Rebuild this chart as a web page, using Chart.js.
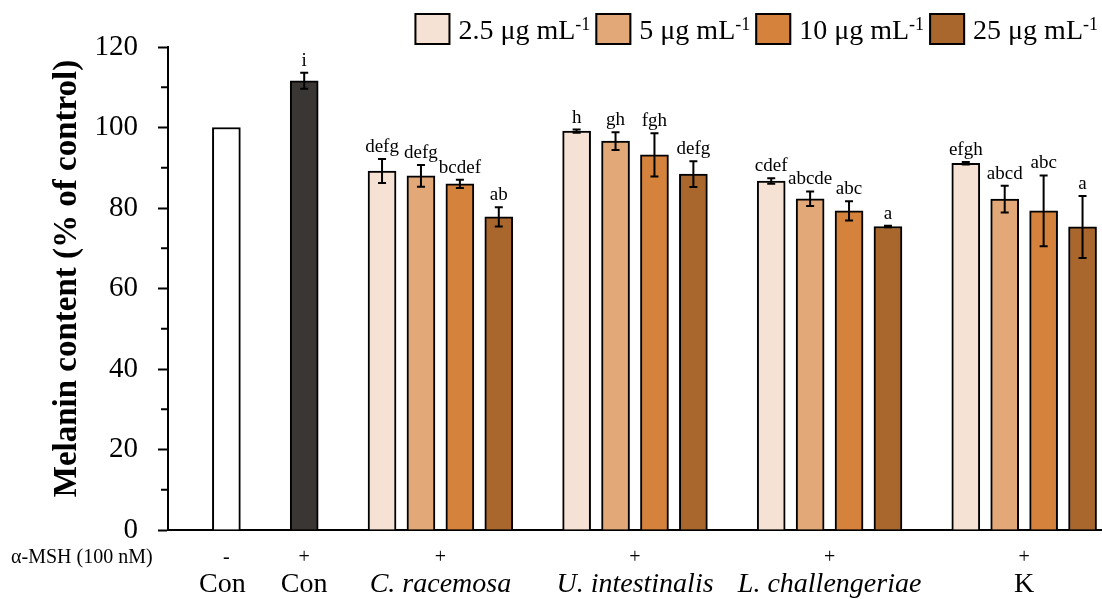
<!DOCTYPE html>
<html>
<head>
<meta charset="utf-8">
<script src="https://cdn.jsdelivr.net/npm/chart.js@4/dist/chart.umd.min.js"></script>
<style>
  html, body { margin: 0; padding: 0; background: #fff; }
  #wrap { width: 1102px; height: 599px; }
</style>
</head>
<body>
<div id="wrap"><canvas id="c" width="1102" height="599"></canvas></div>
<script>
// Melanin content relative to control, by extract and dose
const extracts = ['C. racemosa', 'U. intestinalis', 'L. challengeriae', 'K'];
const doseLabels = ['2.5 μg mL', '5 μg mL', '10 μg mL', '25 μg mL'];

const controlLabels = ['Con', 'Con'];
const controlMsh = ['-', '+'];
const controlValues = [100, 111.6];
const controlErrors = [0, 2.0];
const controlLetters = ['', 'i'];

const dose2_5 = [89.2, 99.1, 86.7, 91.1];
const dose5 = [88.0, 96.6, 82.3, 82.2];
const dose10 = [86.0, 93.2, 79.3, 79.3];
const dose25 = [77.8, 88.4, 75.4, 75.3];

const err2_5 = [3.0, 0.4, 0.7, 0.3];
const err5 = [2.7, 2.2, 1.8, 3.3];
const err10 = [1.0, 5.4, 2.4, 8.8];
const err25 = [2.4, 3.2, 0.2, 7.7];

const letters2_5 = ['defg', 'h', 'cdef', 'efgh'];
const letters5 = ['defg', 'gh', 'abcde', 'abcd'];
const letters10 = ['bcdef', 'fgh', 'abc', 'abc'];
const letters25 = ['ab', 'defg', 'a', 'a'];

const yTicks = [0, 20, 40, 60, 80, 100, 120];
const yTitle = 'Melanin content (% of control)';

const doseColors = ['#f5e2d4', '#e3a878', '#d5823c', '#a9672e'];
const SERIF = "'Liberation Serif', 'Times New Roman', serif";

// slot layout along the x axis: two controls, then four bars per extract
const controlSlot = i => i * 2;
const extractSlot = (g, k) => 4 + g * 5 + k;
const extractCenter = g => 4 + g * 5 + 1.5;

const doseValues = [dose2_5, dose5, dose10, dose25];
const doseErrors = [err2_5, err5, err10, err25];
const doseLetters = [letters2_5, letters5, letters10, letters25];

const datasets = [
  {
    label: 'Con -',
    data: [{ x: controlSlot(0), y: controlValues[0] }],
    backgroundColor: '#ffffff',
    errors: [controlErrors[0]],
    letters: [controlLetters[0]]
  },
  {
    label: 'Con +',
    data: [{ x: controlSlot(1), y: controlValues[1] }],
    backgroundColor: '#3a3634',
    errors: [controlErrors[1]],
    letters: [controlLetters[1]]
  }
];
doseValues.forEach((vals, k) => {
  datasets.push({
    label: doseLabels[k],
    data: vals.map((v, g) => ({ x: extractSlot(g, k), y: v })),
    backgroundColor: doseColors[k],
    errors: doseErrors[k],
    letters: doseLetters[k],
    isDose: true
  });
});
datasets.forEach(ds => {
  ds.borderColor = '#000';
  ds.borderWidth = 2;
  ds.barThickness = 28;
  ds.grouped = false;
});

// error bars and significance letters above each bar
const errorBars = {
  id: 'errorBars',
  afterDatasetsDraw(chart) {
    const { ctx } = chart;
    const y = chart.scales.y;
    chart.data.datasets.forEach((ds, di) => {
      const meta = chart.getDatasetMeta(di);
      meta.data.forEach((bar, i) => {
        const v = ds.data[i].y;
        const e = ds.errors[i] || 0;
        const top = y.getPixelForValue(v + e);
        if (e > 0) {
          const bot = y.getPixelForValue(v - e);
          ctx.save();
          ctx.strokeStyle = '#000';
          ctx.lineWidth = 2;
          ctx.beginPath();
          ctx.moveTo(bar.x, top); ctx.lineTo(bar.x, bot);
          ctx.moveTo(bar.x - 4, top); ctx.lineTo(bar.x + 4, top);
          ctx.moveTo(bar.x - 4, bot); ctx.lineTo(bar.x + 4, bot);
          ctx.stroke();
          ctx.restore();
        }
        const txt = ds.letters[i];
        if (txt) {
          ctx.save();
          ctx.fillStyle = '#000';
          ctx.font = '19px ' + SERIF;
          ctx.textAlign = 'center';
          ctx.textBaseline = 'alphabetic';
          ctx.fillText(txt, bar.x, top - 7);
          ctx.restore();
        }
      });
    });
  }
};

// minor ticks at odd tens and the rotated value-axis title
const valueAxisExtras = {
  id: 'valueAxisExtras',
  afterDraw(chart) {
    const { ctx, chartArea } = chart;
    const y = chart.scales.y;
    const x0 = chartArea.left;
    ctx.save();
    ctx.strokeStyle = '#000';
    ctx.lineWidth = 2;
    ctx.beginPath();
    for (let v = 10; v < 120; v += 20) {
      const py = y.getPixelForValue(v);
      ctx.moveTo(x0 - 7, py); ctx.lineTo(x0, py);
    }
    ctx.stroke();
    ctx.translate(67, (chartArea.top + chartArea.bottom) / 2 - 10);
    ctx.rotate(-Math.PI / 2);
    ctx.fillStyle = '#000';
    ctx.font = 'bold 33px ' + SERIF;
    ctx.textAlign = 'center';
    ctx.textBaseline = 'middle';
    ctx.fillText(yTitle, 0, 0);
    ctx.restore();
  }
};

// treatment rows under the category axis
const treatmentLabels = {
  id: 'treatmentLabels',
  afterDraw(chart) {
    const { ctx, chartArea } = chart;
    const x = chart.scales.x;
    const rowMsh = chartArea.bottom + 33;
    const rowName = chartArea.bottom + 62;
    ctx.save();
    ctx.fillStyle = '#000';
    ctx.textBaseline = 'alphabetic';
    ctx.font = '20px ' + SERIF;
    ctx.textAlign = 'left';
    ctx.fillText('α-MSH (100 nM)', 11, rowMsh);
    ctx.textAlign = 'center';
    controlMsh.forEach((s, i) => {
      ctx.font = '20px ' + SERIF;
      ctx.fillText(s, x.getPixelForValue(controlSlot(i)), rowMsh);
      ctx.font = '28px ' + SERIF;
      ctx.fillText(controlLabels[i], x.getPixelForValue(controlSlot(i)) - (i === 0 ? 4 : 0), rowName);
    });
    extracts.forEach((name, g) => {
      const px = x.getPixelForValue(extractCenter(g));
      ctx.font = '20px ' + SERIF;
      ctx.fillText('+', px, rowMsh);
      ctx.font = (name === 'K' ? '' : 'italic ') + '28px ' + SERIF;
      ctx.fillText(name, px, rowName);
    });
    ctx.restore();
  }
};

// dose legend with superscript units, right-aligned at the top
const doseLegend = {
  id: 'doseLegend',
  afterDraw(chart) {
    const { ctx } = chart;
    const items = chart.data.datasets.filter(d => d.isDose);
    const boxW = 36, boxH = 32, top = 13, base = 39, boxGap = 8, itemGap = 5;
    ctx.save();
    const widths = items.map(ds => {
      ctx.font = '28px ' + SERIF;
      const a = ctx.measureText(ds.label).width;
      ctx.font = '18px ' + SERIF;
      const b = ctx.measureText('-1').width;
      return boxW + boxGap + a + b;
    });
    const total = widths.reduce((s, w) => s + w, 0) + itemGap * (items.length - 1);
    let x = 1098 - total;
    items.forEach(ds => {
      ctx.fillStyle = ds.backgroundColor;
      ctx.fillRect(x, top, boxW, boxH);
      ctx.strokeStyle = '#000';
      ctx.lineWidth = 2;
      ctx.strokeRect(x + 1, top + 1, boxW - 2, boxH - 2);
      x += boxW + boxGap;
      ctx.fillStyle = '#000';
      ctx.textAlign = 'left';
      ctx.textBaseline = 'alphabetic';
      ctx.font = '28px ' + SERIF;
      ctx.fillText(ds.label, x, base);
      x += ctx.measureText(ds.label).width;
      ctx.font = '18px ' + SERIF;
      ctx.fillText('-1', x, base - 9);
      x += ctx.measureText('-1').width + itemGap;
    });
    ctx.restore();
  }
};

Chart.defaults.font.family = SERIF;
Chart.defaults.color = '#000';

new Chart(document.getElementById('c'), {
  type: 'bar',
  data: { datasets },
  options: {
    responsive: false,
    animation: false,
    layout: { padding: { top: 47, right: 0, left: 0, bottom: 0 } },
    plugins: { legend: { display: false }, tooltip: { enabled: false }, title: { display: false } },
    scales: {
      x: {
        type: 'linear',
        min: -1.5,
        max: 22.5,
        offset: false,
        grid: { display: false },
        ticks: { display: false },
        border: { display: true, color: '#000', width: 2 },
        afterFit: s => { s.height = 69; }
      },
      y: {
        min: 0,
        max: 120,
        afterBuildTicks: s => { s.ticks = yTicks.map(v => ({ value: v })); },
        ticks: { font: { size: 29, family: SERIF }, color: '#000', padding: 20 },
        grid: { display: true, drawOnChartArea: false, drawTicks: true, tickLength: 10, tickColor: '#000', tickWidth: 2 },
        border: { display: true, color: '#000', width: 2 },
        title: { display: false },
        afterFit: s => { s.width = 168; }
      }
    }
  },
  plugins: [errorBars, valueAxisExtras, treatmentLabels, doseLegend]
});
</script>
</body>
</html>
